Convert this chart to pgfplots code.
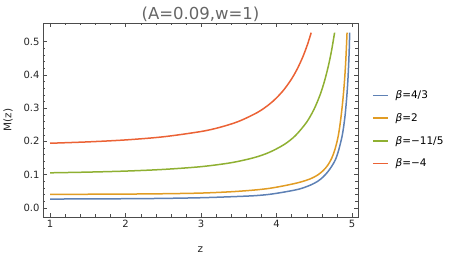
\documentclass[border=0pt]{standalone}
\usepackage{pgfplots}
\pgfplotsset{compat=1.18}
\usepackage{fontspec}
\setmainfont{DejaVu Sans}
\definecolor{cA}{rgb}{0.368417,0.506779,0.709798}
\definecolor{cB}{rgb}{0.880722,0.611041,0.142051}
\definecolor{cC}{rgb}{0.560181,0.691569,0.194885}
\definecolor{cD}{rgb}{0.922526,0.385626,0.209179}
\begin{document}
\begin{tikzpicture}
\begin{axis}[
  at={(0,0)}, anchor=south west,
  scale only axis, width=315pt, height=194pt,
  xmin=0.907, xmax=5.08, ymin=-0.028, ymax=0.556,
  xtick={1,2,3,4,5}, ytick={0,0.1,0.2,0.3,0.4,0.5},
  minor x tick num=4, minor y tick num=4,
  tick align=inside, major tick length=4pt, minor tick length=2.5pt,
  /pgf/number format/assume math mode=true,
  yticklabel style={/pgf/number format/.cd,fixed,fixed zerofill,precision=1},
  tick label style={font=\fontsize{10}{12}\selectfont, text=black!85},
  axis line style={black!70}, tick style={black!70},
  title={(A=0.09,w=1)},
  title style={font=\fontsize{16.5}{19}\selectfont, text=black!60, at={(0.5,1.012)}, anchor=center},
  xlabel={z}, ylabel={M(z)},
  label style={font=\fontsize{10.5}{12}\selectfont, text=black!85},
  xlabel style={at={(0.5,-0.17)}, anchor=center},
  ylabel style={at={(-0.111,0.5)}, anchor=center},
  legend style={draw=none, fill=none, at={(1.044,0.451)}, anchor=west,
    font=\fontsize{10.5}{12}\selectfont, row sep=9pt, inner sep=0pt,
    /tikz/every odd column/.style={column sep=5pt}},
  legend cell align=left,
  legend image code/.code={\draw[#1] (0pt,0pt) -- (15pt,0pt);},
]
\addplot[cA, line width=1.5pt, smooth] coordinates {
(1.0,0.026) (2.0,0.027) (2.5,0.028) (3.0,0.030) (3.4,0.033) (3.7,0.036)
(3.9,0.040) (4.1,0.047) (4.3,0.056) (4.45,0.068) (4.55,0.080) (4.62,0.093)
(4.68,0.108) (4.73,0.124) (4.78,0.144) (4.82,0.170) (4.85,0.196) (4.87,0.216)
(4.89,0.244) (4.91,0.280) (4.93,0.330) (4.945,0.380) (4.955,0.425) (4.963,0.470) (4.97,0.527)};
\addlegendentry{\textit{β}=4/3}
\addplot[cB, line width=1.5pt, smooth] coordinates {
(1.0,0.040) (2.0,0.041) (2.5,0.042) (3.0,0.044) (3.4,0.048) (3.7,0.053)
(3.9,0.058) (4.1,0.066) (4.3,0.076) (4.45,0.087) (4.55,0.099) (4.62,0.112)
(4.68,0.128) (4.73,0.148) (4.77,0.172) (4.80,0.197) (4.82,0.218) (4.84,0.247)
(4.86,0.283) (4.88,0.325) (4.90,0.378) (4.915,0.430) (4.925,0.475) (4.935,0.527)};
\addlegendentry{\textit{β}=2}
\addplot[cC, line width=1.5pt, smooth] coordinates {
(1.0,0.1050) (1.5,0.1071) (2.0,0.1102) (2.5,0.1152) (3.0,0.1235) (3.4,0.1354)
(3.7,0.1505) (3.9,0.1661) (4.1,0.1899) (4.25,0.2168) (4.4,0.2575) (4.5,0.2974)
(4.58,0.3411) (4.64,0.3841) (4.69,0.4292) (4.73,0.4734) (4.77,0.5270)};
\addlegendentry{\textit{β}=−11/5}
\addplot[cD, line width=1.5pt, smooth] coordinates {
(1.0,0.1940) (1.5,0.1981) (2.0,0.2040) (2.5,0.2134) (3.0,0.2293) (3.25,0.2419)
(3.5,0.2599) (3.75,0.2870) (3.9,0.3103) (4.0,0.3305) (4.1,0.3556) (4.2,0.3875)
(4.28,0.4198) (4.35,0.4546) (4.41,0.4908) (4.46,0.5268)};
\addlegendentry{\textit{β}=−4}
\end{axis}
\pgfresetboundingbox
\path[use as bounding box] (-43pt,-42pt) rectangle (408pt,217pt);
\end{tikzpicture}
\end{document}
